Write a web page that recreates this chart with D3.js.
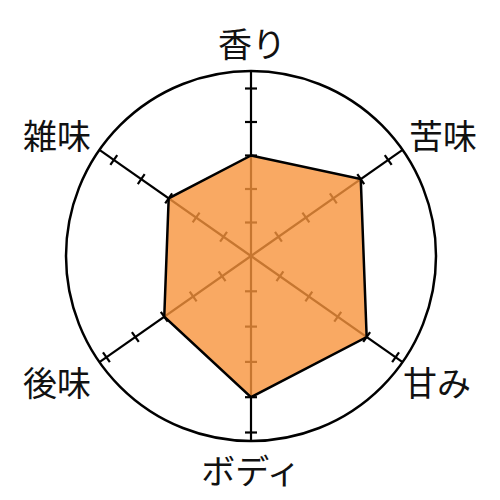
<!DOCTYPE html>
<html>
<head>
<meta charset="utf-8">
<script src="https://cdn.jsdelivr.net/npm/d3@7"></script>
<style>
  body { margin: 0; background: #fff; }
  text { font-family: "Noto Sans CJK JP", "Noto Sans", sans-serif; fill: #111; }
</style>
</head>
<body>
<svg id="main-svg" width="500" height="500"></svg>
<script>
(function() {

    // axes, clockwise from the top
    var axes = ["香り", "苦味", "甘み", "ボディ", "後味", "雑味"];
    var values = [3, 4, 4, 4, 3, 3];
    var ticks = [1, 2, 3, 4, 5];

    // angle of each axis (degrees, counter-clockwise from +x)
    var angles = [90, 35, -35, -90, -145, 145];

    // label centres
    var labelX = [252, 443, 437, 251, 57, 57];
    var labelY = [42, 134, 381, 469, 381, 134];

    var cx = 251, cy = 256, R = 185;

    // the drawing is slightly taller below the centre than above it
    var rUp = d3.scaleLinear().domain([0, 5]).range([0, 167.5]);
    var rDown = d3.scaleLinear().domain([0, 5]).range([0, 176.5]);

    var rad = function(i) { return angles[i] * Math.PI / 180; };
    var rScale = function(i) { return Math.sin(rad(i)) < -0.01 ? rDown : rUp; };
    var pt = function(i, d) {
        var a = rad(i);
        return [cx + d * Math.cos(a), cy - d * Math.sin(a)];
    };

    var svg = d3.select("#main-svg");

    svg.append("circle")
    .attr("cx", cx)
    .attr("cy", cy)
    .attr("r", R)
    .attr("fill", "none")
    .attr("stroke", "#000")
    .attr("stroke-width", 2.5);

    var axisG = svg.selectAll(".axis")
    .data(axes)
    .enter()
    .append("g")
    .classed("axis", true);

    axisG.append("line")
    .attr("x1", cx)
    .attr("y1", cy)
    .attr("x2", function(d, i) { return pt(i, R)[0]; })
    .attr("y2", function(d, i) { return pt(i, R)[1]; })
    .attr("stroke", "#000")
    .attr("stroke-width", 2.2);

    axisG.each(function(d, i) {
        var a = rad(i);
        var nx = Math.sin(a), ny = Math.cos(a); // perpendicular
        var s = rScale(i);
        d3.select(this).selectAll(".tick")
        .data(ticks)
        .enter()
        .append("line")
        .classed("tick", true)
        .attr("x1", function(t) { return pt(i, s(t))[0] - 6 * nx; })
        .attr("y1", function(t) { return pt(i, s(t))[1] - 6 * ny; })
        .attr("x2", function(t) { return pt(i, s(t))[0] + 6 * nx; })
        .attr("y2", function(t) { return pt(i, s(t))[1] + 6 * ny; })
        .attr("stroke", "#000")
        .attr("stroke-width", 2.2);
    });

    var points = values.map(function(v, i) { return pt(i, rScale(i)(v)); });

    svg.append("path")
    .attr("d", d3.line()(points) + "Z")
    .attr("fill", "#F8943C")
    .attr("fill-opacity", 0.8)
    .attr("stroke", "#000")
    .attr("stroke-width", 2.5)
    .attr("stroke-linejoin", "miter");

    svg.selectAll(".label")
    .data(axes)
    .enter()
    .append("text")
    .classed("label", true)
    .attr("x", function(d, i) { return labelX[i]; })
    .attr("y", function(d, i) { return labelY[i]; })
    .attr("text-anchor", "middle")
    .attr("dominant-baseline", "central")
    .attr("font-size", 34)
    .text(function(d) { return d; });
})();
</script>
</body>
</html>
